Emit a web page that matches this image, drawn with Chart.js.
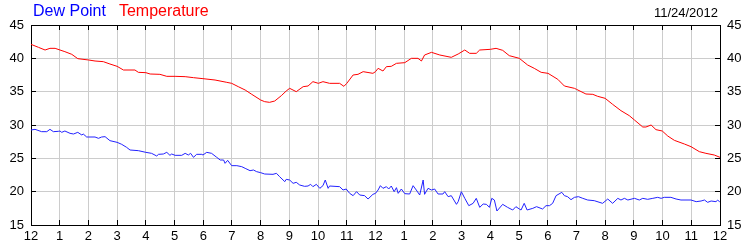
<!DOCTYPE html>
<html>
<head>
<meta charset="utf-8">
<script src="https://cdn.jsdelivr.net/npm/chart.js@4"></script>
<style>
  body { margin: 0; background: #fff; }
  #wrap { position: relative; width: 750px; height: 250px; font-family: "Liberation Sans", Arial, sans-serif; }
  #legend { position: absolute; left: 33px; top: 2px; font-size: 16px; }
  #legend span { margin-right: 13px; }
  #date { position: absolute; right: 32px; top: 5px; font-size: 13px; color: #000; }
</style>
</head>
<body>
<div id="wrap">
  <canvas id="chart" width="750" height="250"></canvas>
  <div id="legend"><span style="color:#0000ff">Dew Point</span><span style="color:#ff0000">Temperature</span></div>
  <div id="date">11/24/2012</div>
</div>
<script>
const hourLabels = ['12','1','2','3','4','5','6','7','8','9','10','11','12','1','2','3','4','5','6','7','8','9','10','11','12']

// temperature, hours since midnight
const tempHours = [0,0.26,0.49,0.66,0.84,1.01,1.18,1.42,1.63,2.01,2.23,2.52,2.75,3.00,3.22,3.62,3.74,4.00,4.15,4.49,4.73,5.02,5.37,5.66,5.99,6.41,6.82,6.99,7.22,7.46,7.69,8.00,
  8.14,8.31,8.49,8.72,8.89,9.01,9.24,9.48,9.65,9.82,10.01,10.17,10.40,10.75,10.90,11.00,11.22,11.39,11.57,11.91,12.00,12.09,12.26,12.38,12.55,12.73,13.02,13.25,13.48,13.60,13.71,13.95,14.24,14.64,14.88,15.11,15.28,15.51,15.63,16.00,
  16.20,16.43,16.66,17.01,17.30,17.53,17.77,18.01,18.35,18.58,18.93,19.00,19.33,19.57,19.74,20.00,20.26,20.55,20.84,21.02,21.31,21.42,21.60,21.77,21.99,22.18,22.41,22.76,22.99,23.28,23.51,23.80,24.00]
const tempValues = [42.1,41.65,41.25,41.5,41.5,41.25,41.0,40.6,39.95,39.75,39.6,39.5,39.15,38.8,38.25,38.25,37.9,37.85,37.65,37.6,37.3,37.3,37.25,37.1,36.95,36.75,36.4,36.25,35.75,35.25,34.6,33.75,
  33.5,33.4,33.6,34.4,35.1,35.5,35.0,35.75,35.85,36.5,36.25,36.5,36.25,36.25,35.8,36.25,37.5,37.6,38.0,37.75,38.0,38.5,38.1,38.75,38.8,39.25,39.35,40.0,40.0,39.6,40.5,40.9,40.5,40.15,40.65,41.25,40.75,40.75,41.25,41.35,
  41.5,41.2,40.4,40.0,39.0,38.5,37.9,37.75,36.85,35.85,35.5,35.35,34.65,34.6,34.3,34.0,33.1,32.15,31.4,30.75,29.7,29.7,30.0,29.3,29.1,28.35,27.7,27.15,26.75,26.0,25.75,25.5,25.15]

// dew point
const dewHours = [0,0.14,0.37,0.55,0.66,0.78,0.95,1.01,1.07,1.18,1.36,1.48,1.63,1.77,1.82,1.94,2.01,2.23,2.35,2.46,2.58,2.75,3.00,3.16,3.33,3.45,3.74,4.00,4.20,4.38,
  4.44,4.61,4.73,4.84,4.90,5.02,5.25,5.37,5.48,5.56,5.66,5.77,5.95,5.99,6.12,6.29,6.47,6.59,6.71,6.76,6.85,6.99,7.17,7.34,7.46,7.63,7.75,7.86,8.00,
  8.14,8.43,8.55,8.66,8.84,8.89,9.01,9.13,9.24,9.36,9.53,9.65,9.74,9.82,9.94,10.06,10.17,10.25,10.35,10.40,10.75,10.87,10.98,11.10,11.22,11.34,11.45,11.62,11.74,11.91,
  12.00,12.09,12.17,12.26,12.38,12.46,12.55,12.65,12.73,12.79,12.90,13.02,13.19,13.31,13.42,13.54,13.66,13.71,13.83,13.95,14.06,14.18,14.35,14.41,14.53,14.64,14.82,14.88,14.99,15.11,
  15.25,15.40,15.51,15.63,15.75,15.86,15.97,
  16.05,16.14,16.23,16.43,16.60,16.78,16.89,17.01,17.07,17.18,17.28,17.48,17.61,17.82,17.94,18.06,18.17,18.29,18.49,18.58,18.69,18.81,18.93,19.07,19.22,19.39,19.62,19.91,20.09,20.26,
  20.44,20.55,20.67,20.79,21.02,21.19,21.31,21.48,21.66,21.83,21.95,22.06,22.29,22.47,22.64,22.99,23.17,23.34,23.46,23.57,23.69,23.86,23.92,24.00]
const dewValues = [29.25,29.35,29.0,29.0,29.35,29.0,29.05,29.1,28.9,29.1,28.75,28.65,28.9,28.5,28.65,28.2,28.2,28.2,28.0,28.2,28.25,27.65,27.4,27.1,26.65,26.25,26.15,25.9,25.75,25.35,
  25.6,25.65,25.9,25.45,25.65,25.45,25.45,25.75,25.5,25.75,25.15,25.6,25.6,25.5,25.9,25.75,25.15,24.75,24.75,24.25,24.7,23.9,23.9,23.75,23.5,23.15,23.25,23.0,22.85,
  22.65,22.6,22.75,22.25,21.5,21.85,21.75,21.25,21.4,21.0,20.8,20.85,21.1,20.75,21.1,20.5,20.9,21.75,20.5,20.85,20.75,20.25,20.4,19.75,19.4,20.0,19.5,19.4,18.9,19.6,
  19.75,20.25,20.9,20.5,20.75,20.4,20.85,20.0,20.6,19.75,20.4,19.7,19.65,20.9,20.25,19.5,21.75,19.6,20.5,20.25,20.4,19.65,19.65,20.0,19.25,19.4,18.1,18.5,20.0,19.0,
  17.9,18.25,19.0,17.65,18.15,18.1,17.65,
  19.0,18.75,17.1,18.1,17.65,17.25,17.75,17.4,17.25,18.25,17.25,17.5,17.75,17.4,17.9,17.9,18.25,19.4,19.9,19.4,19.25,18.8,19.15,19.25,19.0,18.75,18.65,18.25,18.9,18.25,
  19.0,18.75,19.0,18.75,19.0,18.75,19.0,18.85,19.0,19.15,19.0,19.15,19.15,18.9,18.75,18.75,18.5,18.6,18.75,18.4,18.6,18.5,18.75,18.4]

const yMin = 15
const yMax = 45

function points(xs, ys) {
  return xs.map((h, i) => ({ x: h, y: ys[i] }))
}

const tickFont = { family: '"Liberation Sans", Arial, sans-serif', size: 13 }

const config = {
  type: 'line',
  data: {
    datasets: [{
      label: 'Dew Point',
      data: points(dewHours, dewValues),
      borderColor: '#2222ff',
      borderWidth: 1,
      pointRadius: 0,
      tension: 0
    }, {
      label: 'Temperature',
      data: points(tempHours, tempValues),
      borderColor: '#ff0000',
      borderWidth: 1,
      pointRadius: 0,
      tension: 0
    }]
  },
  options: {
    responsive: false,
    animation: false,
    layout: { padding: 0 },
    plugins: { legend: { display: false }, tooltip: { enabled: false } },
    scales: {
      x: {
        type: 'linear', position: 'bottom', min: 0, max: 24,
        grid: { color: '#cccccc', tickColor: '#000', tickLength: -5 },
        border: { color: '#000' },
        ticks: { stepSize: 1, padding: 9, color: '#000', font: tickFont, maxRotation: 0, autoSkip: false,
          callback: v => hourLabels[v] },
        afterFit: s => { s.height = 25 }
      },
      x2: {
        type: 'linear', position: 'top', min: 0, max: 24,
        grid: { drawOnChartArea: false, tickColor: '#000', tickLength: -5 },
        border: { color: '#000' },
        ticks: { stepSize: 1, display: false },
        afterFit: s => { s.height = 25 }
      },
      y: {
        position: 'left', min: yMin, max: yMax,
        grid: { color: '#cccccc', tickColor: '#000', tickLength: -5 },
        border: { color: '#000' },
        ticks: { stepSize: 5, padding: 12, color: '#000', font: tickFont },
        afterFit: s => { s.width = 31 }
      },
      y2: {
        position: 'right', min: yMin, max: yMax,
        grid: { drawOnChartArea: false, tickColor: '#000', tickLength: -5 },
        border: { color: '#000' },
        ticks: { stepSize: 5, padding: 12, color: '#000', font: tickFont },
        afterFit: s => { s.width = 30 }
      }
    }
  }
}

const myChart = new Chart(document.getElementById('chart'), config)
</script>
</body>
</html>
